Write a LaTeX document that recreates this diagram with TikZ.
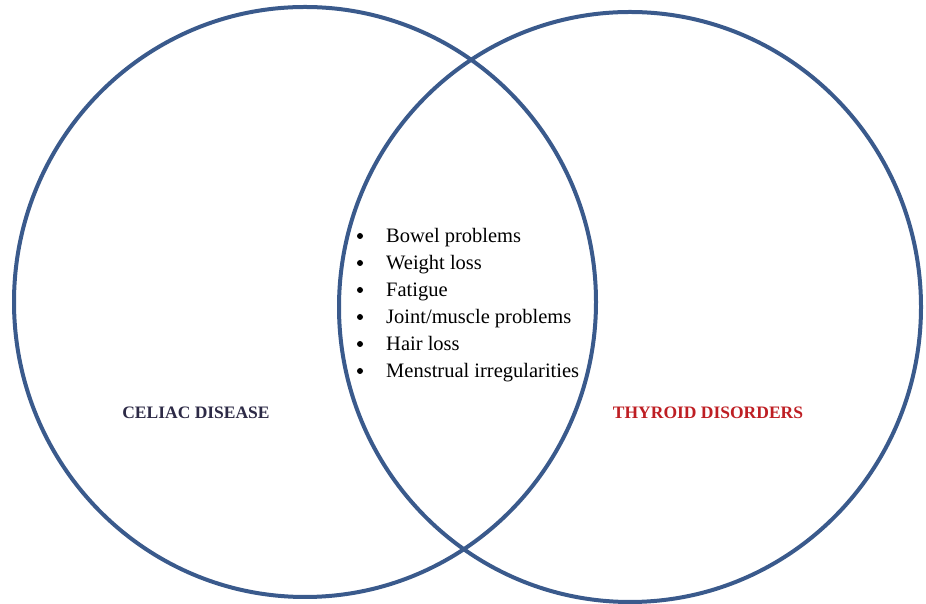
\documentclass[tikz,border=0pt]{standalone}
\usepackage{fontspec}
\setmainfont{Liberation Serif}
\usetikzlibrary{shapes.geometric}
\definecolor{ringblue}{RGB}{58,90,140}
\definecolor{celiacnavy}{RGB}{45,42,70}
\definecolor{thyroidred}{RGB}{190,30,35}
\tikzset{
  ring/.style={draw=ringblue, line width=4pt, ellipse, inner sep=0pt, minimum width=582pt, minimum height=590pt},
  item/.style={anchor=base west, inner sep=0pt, font=\fontsize{20.5}{24}\selectfont},
  dot/.style={circle, fill=black, inner sep=0pt, minimum size=6pt},
  heading/.style={inner sep=0pt, font=\bfseries\fontsize{17.5}{20}\selectfont}
}
\begin{document}
\begin{tikzpicture}[x=1pt, y=1pt]
      \useasboundingbox (0,0) rectangle (926,604);
      \node[ring] (celiac) at (305,302) {};
      \node[ring] (thyroid) at (630,297) {};
      \node[heading, text=celiacnavy] (celiaclabel) at (196,191) {CELIAC DISEASE};
      \node[heading, text=thyroidred] (thyroidlabel) at (708,191) {THYROID DISORDERS};
      \node[dot] (d1) at (360,368) {};
      \node[dot] (d2) at (360,341) {};
      \node[dot] (d3) at (360,314) {};
      \node[dot] (d4) at (360,287) {};
      \node[dot] (d5) at (360,260) {};
      \node[dot] (d6) at (360,233) {};
      \node[item] (bowel) at (386,361) {Bowel problems};
      \node[item] (weight) at (386,334) {Weight loss};
      \node[item] (fatigue) at (386,307) {Fatigue};
      \node[item] (joint) at (386,280) {Joint/muscle problems};
      \node[item] (hair) at (386,253) {Hair loss};
      \node[item] (menstrual) at (386,226) {Menstrual irregularities};
    \end{tikzpicture}
\end{document}
